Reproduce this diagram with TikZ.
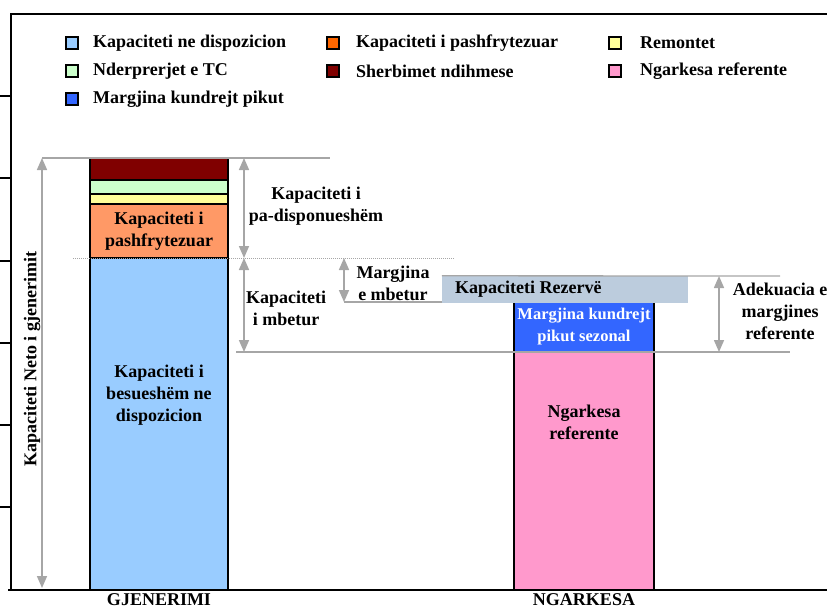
\documentclass[tikz,border=0pt]{standalone}
\usepackage{fontspec}
\setmainfont{Liberation Serif}
\usetikzlibrary{arrows.meta}

\definecolor{dispblue}{HTML}{99CCFF}
\definecolor{pashorange}{HTML}{FF9966}
\definecolor{legorange}{HTML}{FF6600}
\definecolor{remyellow}{HTML}{FFFF99}
\definecolor{tcgreen}{HTML}{CCFFCC}
\definecolor{sherbred}{HTML}{800000}
\definecolor{ngarkpink}{HTML}{FF99CC}
\definecolor{margblue}{HTML}{3366FF}
\definecolor{rezgrey}{HTML}{BCCCDD}
\definecolor{linegrey}{HTML}{A6A6A6}

\tikzset{
	bar/.style={draw=black, line width=1.2pt, inner sep=0pt, outer sep=0pt, align=center},
	legbox/.style={draw=black, line width=1.4pt, minimum size=12pt, inner sep=0pt},
	legtext/.style={anchor=west, inner sep=0pt},
	guide/.style={draw=linegrey, line width=1.3pt},
	dim/.style={draw=linegrey, line width=1.6pt, {Triangle[width=10pt,length=12pt]}-{Triangle[width=10pt,length=12pt]}},
	lbl/.style={align=center, inner sep=0pt}
}

\begin{document}
\begin{tikzpicture}[x=1pt, y=-1pt, font=\fontsize{18}{22}\selectfont\bfseries]
	\useasboundingbox (0,0) rectangle (827,608);

	% frame and ticks
	\draw[line width=1.5pt] (827,14) -- (11,14) -- (11,590);
	\draw[line width=2pt] (8,590) -- (827,590);
	\draw[line width=1.3pt] (0,96) -- (11,96) (0,178) -- (11,178) (0,261) -- (11,261)
		(0,343) -- (11,343) (0,425) -- (11,425) (0,507) -- (11,507);

	% legend
	\node[legbox, fill=dispblue] (kDisp) at (72,43) {};
	\node[legtext] (tDisp) at (93,43) {Kapaciteti ne dispozicion};
	\node[legbox, fill=tcgreen] (kTc) at (72,71) {};
	\node[legtext] (tTc) at (93,71) {Nderprerjet e TC};
	\node[legbox, fill=margblue] (kMarg) at (72,99) {};
	\node[legtext] (tMarg) at (93,99) {Margjina kundrejt pikut};
	\node[legbox, fill=legorange] (kPash) at (333,43) {};
	\node[legtext] (tPash) at (356,43) {Kapaciteti i pashfrytezuar};
	\node[legbox, fill=sherbred] (kSherb) at (333,71) {};
	\node[legtext] (tSherb) at (356,71) {Sherbimet ndihmese};
	\node[legbox, fill=remyellow] (kRem) at (615,43) {};
	\node[legtext] (tRem) at (640,43) {Remontet};
	\node[legbox, fill=ngarkpink] (kNgark) at (615,71) {};
	\node[legtext] (tNgark) at (640,71) {Ngarkesa referente};

	% gjenerimi
	\node[bar, fill=sherbred, minimum width=138pt, minimum height=22pt] (sherb) at (159,169) {};
	\node[bar, fill=tcgreen, minimum width=138pt, minimum height=14pt] (tc) at (159,187) {};
	\node[bar, fill=remyellow, minimum width=138pt, minimum height=10pt] (rem) at (159,199) {};
	\node[bar, fill=pashorange, minimum width=138pt, minimum height=54pt] (pash) at (159,231) {Kapaciteti i\\pashfrytezuar};
	\node[bar, fill=dispblue, minimum width=138pt, minimum height=332pt] (disp) at (159,424) {};
	\node[lbl] (dispText) at (159,395) {Kapaciteti i\\besueshëm ne\\dispozicion};

	% ngarkesa
	\node[bar, fill=ngarkpink, minimum width=140pt, minimum height=238pt] (ngark) at (584,471) {};
	\node[lbl] (ngarkText) at (584,422) {Ngarkesa\\referente};
	\node[bar, fill=margblue, minimum width=140pt, minimum height=50pt, text=white,
		font=\fontsize{16.5}{22}\selectfont\bfseries] (marg) at (584,327) {Margjina kundrejt\\pikut sezonal};
	\node[fill=rezgrey, minimum width=246pt, minimum height=27pt, inner sep=0pt] (rez) at (565,289.5) {};
	\node[anchor=west, inner sep=0pt] (rezText) at (455,289) {Kapaciteti Rezervë};

	% levels
	\coordinate (netTop) at (42,158);
	\coordinate (netBot) at (42,588);
	\coordinate (topEnd) at (330,158);
	\coordinate (unTop) at (244,158);
	\coordinate (unBot) at (244,258);
	\coordinate (leftBot) at (244,352);
	\coordinate (dotL) at (73,258);
	\coordinate (dotR) at (455,258);
	\coordinate (loadL) at (236,352);
	\coordinate (loadR) at (790,352);
	\coordinate (rezEnd) at (780,276);
	\coordinate (mbTop) at (344,258);
	\coordinate (mbBot) at (344,302);
	\coordinate (adTop) at (719,276);
	\coordinate (adBot) at (719,352);

	\draw[guide] (netTop) -- (topEnd);
	\draw[guide, line width=1pt, densely dotted] (dotL) -- (dotR);
	\draw[guide] (loadL) -- (loadR);
	\draw[guide] (rez.north west) -- (rezEnd);
	\draw[guide] (mbBot) -- (mbBot -| rez.west);

	\draw[dim] (netTop) -- (netBot);
	\draw[dim] (unTop) -- (unBot);
	\draw[dim] (unBot) -- (leftBot);
	\draw[dim] (mbTop) -- (mbBot);
	\draw[dim] (adTop) -- (adBot);

	% labels
	\node[lbl, rotate=90] (netLabel) at (32,359) {Kapaciteti Neto i gjenerimit};
	\node[lbl] (unLabel) at (316,206) {Kapaciteti i\\pa-disponueshëm};
	\node[lbl] (leftLabel) at (286,308) {Kapaciteti\\i mbetur};
	\node[lbl] (mbLabel) at (393,283) {Margjina\\e mbetur};
	\node[lbl] (adLabel) at (780,311) {Adekuacia e\\margjines\\referente};
	\node[anchor=base, inner sep=0pt, text depth=0pt] (gjen) at (159,605) {GJENERIMI};
	\node[anchor=base, inner sep=0pt, text depth=0pt] (ngarkesa) at (584,605) {NGARKESA};
\end{tikzpicture}
\end{document}
